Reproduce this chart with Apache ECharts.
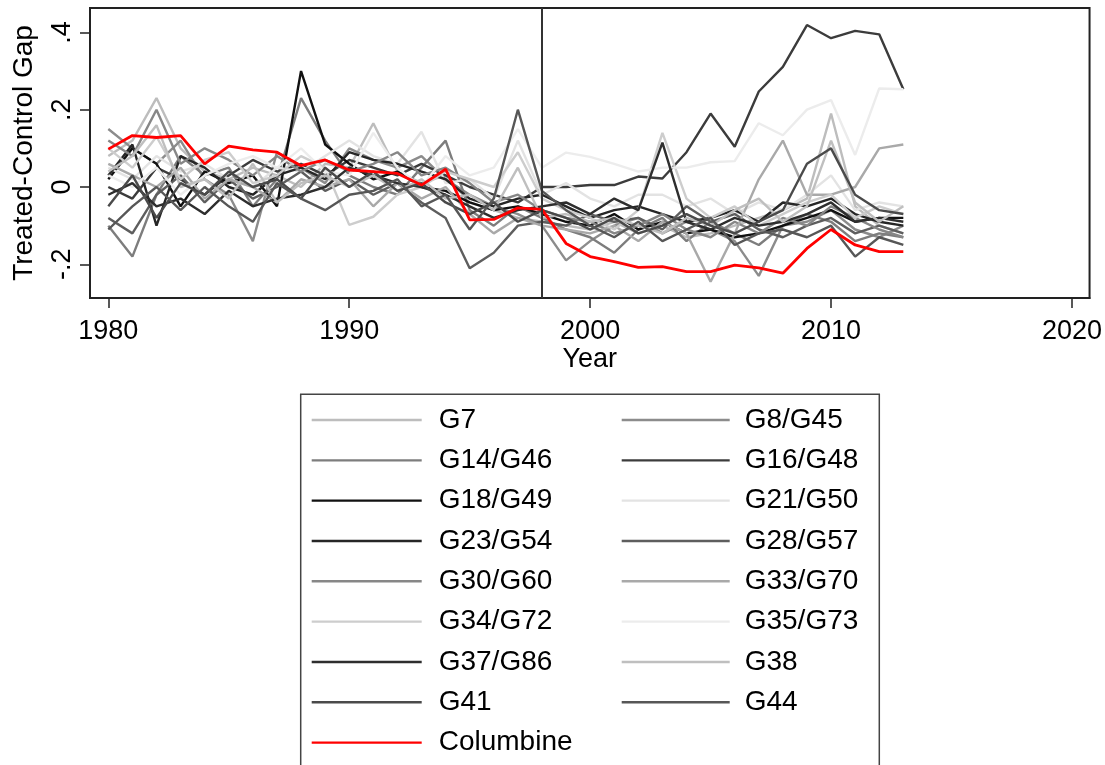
<!DOCTYPE html>
<html>
<head>
<meta charset="utf-8">
<title>Treated-Control Gap</title>
<script src="https://cdn.jsdelivr.net/npm/echarts@6.0.0/dist/echarts.min.js"></script>
<style>
  html, body { margin: 0; padding: 0; background: #fff; }
  #chart { width: 1105px; height: 765px; }
</style>
</head>
<body>
<div id="chart"></div>
<script>
var years = [1980, 1981, 1982, 1983, 1984, 1985, 1986, 1987, 1988, 1989,
  1990, 1991, 1992, 1993, 1994, 1995, 1996, 1997, 1998, 1999,
  2000, 2001, 2002, 2003, 2004, 2005, 2006, 2007, 2008, 2009,
  2010, 2011, 2012, 2013];

var xTicks = [1980, 1990, 2000, 2010, 2020];
var yTicks = [-0.2, 0, 0.2, 0.4];
var yTickLabels = ['-.2', '0', '.2', '.4'];
var treatYear = 1998;

// 各组的差值
var g7 = [0.08, 0.12, 0.23, 0.10, 0.04, 0.02, 0.05, 0.03, 0.00, 0.06,
  0.05, 0.165, 0.04, 0.01, 0.03, -0.04, -0.06, -0.08, -0.09, -0.10,
  -0.11, -0.09, -0.12, -0.10, -0.13, -0.12, -0.10, -0.08, -0.06, -0.03,
  0.19, -0.05, -0.10, -0.12];
var g8 = [0.15, 0.10, 0.06, 0.12, 0.02, -0.02, -0.14, 0.09, 0.05, 0.01,
  0.10, 0.07, 0.05, 0.08, 0.02, -0.02, -0.05, -0.07, -0.10, -0.19,
  -0.14, -0.10, -0.08, -0.12, -0.09, -0.11, -0.14, -0.23, -0.10, -0.09,
  -0.06, -0.11, -0.13, -0.10];
var g14 = [-0.10, -0.18, -0.02, 0.08, 0.03, 0.05, -0.05, 0.02, 0.23, 0.12,
  0.03, 0.00, -0.02, 0.05, 0.12, -0.06, -0.10, -0.05, -0.08, -0.11,
  -0.13, -0.17, -0.11, -0.08, -0.14, -0.09, -0.12, -0.15, -0.10, -0.07,
  -0.09, -0.14, -0.12, -0.13];
var g16 = [0.00, -0.03, 0.05, 0.02, -0.02, 0.03, 0.07, 0.04, 0.06, 0.03,
  0.07, 0.05, 0.03, 0.06, 0.03, 0.00, -0.02, -0.04, 0.00, 0.00,
  0.005, 0.005, 0.027, 0.022, 0.09, 0.19, 0.104, 0.247, 0.311, 0.419,
  0.385, 0.404, 0.395, 0.253];
var g18 = [0.02, 0.10, 0.06, -0.05, 0.04, 0.01, 0.03, -0.05, 0.30, 0.11,
  0.06, 0.02, 0.04, 0.00, -0.01, -0.04, -0.06, -0.05, -0.07, -0.09,
  -0.10, -0.07, -0.11, -0.09, -0.12, -0.11, -0.13, -0.12, -0.10, -0.08,
  -0.06, -0.09, -0.08, -0.08];
var g21 = [0.05, 0.02, 0.08, 0.04, 0.06, 0.02, 0.00, 0.05, 0.04, 0.08,
  0.12, 0.08, 0.06, 0.143, 0.01, 0.02, -0.03, 0.12, -0.02, 0.01,
  -0.03, -0.05, -0.02, -0.02, -0.05, -0.03, -0.07, -0.04, -0.06, -0.02,
  0.03, -0.06, -0.04, -0.05];
var g23 = [0.03, 0.11, -0.10, 0.08, 0.05, 0.00, -0.02, 0.03, 0.05, 0.02,
  0.09, 0.07, 0.06, 0.04, 0.02, -0.03, -0.05, -0.03, -0.02, -0.05,
  -0.08, -0.06, -0.05, -0.07, -0.09, -0.08, -0.06, -0.09, -0.04, -0.05,
  -0.03, -0.07, -0.09, -0.10];
var g28 = [-0.08, -0.12, -0.02, 0.03, -0.04, 0.02, -0.03, 0.00, 0.04, -0.01,
  0.02, -0.02, 0.01, -0.04, -0.08, -0.21, -0.17, -0.10, -0.09, -0.10,
  -0.07, -0.09, -0.08, -0.11, -0.05, -0.09, -0.07, -0.11, -0.13, -0.10,
  -0.08, -0.12, -0.10, -0.12];
var g30 = [0.12, 0.08, 0.20, 0.06, 0.10, 0.07, 0.03, 0.08, 0.04, 0.07,
  0.04, 0.06, 0.09, 0.03, 0.05, 0.01, -0.04, -0.02, -0.06, -0.08,
  -0.09, -0.12, -0.10, -0.07, -0.11, -0.13, -0.09, -0.12, -0.08, -0.10,
  -0.05, -0.08, -0.11, -0.13];
var g33 = [0.06, 0.03, 0.00, 0.05, -0.03, 0.02, 0.00, -0.04, 0.02, 0.00,
  0.02, -0.05, 0.01, -0.03, 0.00, -0.07, -0.12, -0.08, -0.10, -0.11,
  -0.12, -0.10, -0.14, -0.09, -0.12, -0.245, -0.12, 0.02, 0.12, -0.02,
  -0.02, 0.00, 0.10, 0.11];
var g34 = [0.10, 0.05, 0.13, 0.02, 0.07, 0.09, 0.01, 0.03, 0.08, 0.05,
  -0.098, -0.077, -0.02, 0.00, 0.04, 0.02, 0.00, 0.09, -0.03, -0.06,
  -0.08, -0.11, -0.06, 0.14, -0.03, -0.08, -0.05, -0.10, -0.07, -0.04,
  -0.02, -0.08, -0.05, -0.07];
var g35 = [0.03, 0.00, 0.05, -0.02, 0.03, 0.06, 0.08, 0.05, 0.10, 0.04,
  0.03, 0.14, 0.05, 0.00, 0.08, 0.03, 0.05, 0.15, 0.05, 0.089,
  0.078, 0.06, 0.04, 0.05, 0.05, 0.064, 0.067, 0.165, 0.134, 0.20,
  0.225, 0.083, 0.255, 0.253];
var g37 = [-0.02, 0.01, -0.05, -0.03, -0.07, -0.01, -0.05, -0.03, -0.02, 0.00,
  0.05, 0.03, 0.01, 0.00, -0.02, -0.05, -0.08, -0.06, -0.05, -0.04,
  -0.07, -0.03, -0.06, 0.115, -0.09, -0.11, -0.08, -0.10, -0.09, -0.07,
  -0.04, -0.09, -0.08, -0.09];
var g38 = [0.04, 0.08, 0.16, 0.00, 0.02, -0.03, 0.06, -0.04, 0.01, 0.03,
  0.00, 0.03, -0.01, 0.02, -0.03, -0.02, -0.06, 0.05, -0.08, -0.07,
  -0.09, -0.08, -0.10, -0.12, -0.08, -0.10, -0.06, -0.03, -0.09, -0.05,
  0.12, -0.04, -0.09, -0.05];
var g41 = [-0.05, 0.03, -0.08, 0.01, -0.02, 0.04, 0.00, 0.02, -0.03, 0.05,
  0.00, 0.04, -0.01, 0.01, -0.04, -0.07, -0.04, -0.09, -0.06, -0.08,
  -0.11, -0.08, -0.12, -0.10, -0.07, -0.10, -0.12, -0.09, -0.06, 0.06,
  0.10, -0.02, -0.06, -0.07];
var g44 = [-0.11, -0.05, 0.00, -0.06, 0.00, -0.05, -0.09, 0.01, -0.03, -0.06,
  -0.02, -0.01, 0.02, -0.05, -0.02, -0.11, -0.03, 0.20, -0.01, -0.06,
  -0.10, -0.13, -0.09, -0.14, -0.11, -0.08, -0.15, -0.12, -0.11, -0.13,
  -0.10, -0.18, -0.13, -0.15];
var columbine = [0.098, 0.133, 0.128, 0.133, 0.060, 0.106, 0.096, 0.090, 0.055, 0.070,
  0.044, 0.040, 0.035, 0.005, 0.046, -0.085, -0.084, -0.054, -0.058, -0.146,
  -0.180, -0.193, -0.208, -0.206, -0.219, -0.219, -0.202, -0.209, -0.223, -0.159,
  -0.110, -0.150, -0.167, -0.167];

var groups = [
  {name: 'G7', values: g7, color: '#bdbdbd'},
  {name: 'G8/G45', values: g8, color: '#8c8c8c'},
  {name: 'G14/G46', values: g14, color: '#7d7d7d'},
  {name: 'G16/G48', values: g16, color: '#3c3c3c'},
  {name: 'G18/G49', values: g18, color: '#111111'},
  {name: 'G21/G50', values: g21, color: '#e3e3e3'},
  {name: 'G23/G54', values: g23, color: '#262626'},
  {name: 'G28/G57', values: g28, color: '#5e5e5e'},
  {name: 'G30/G60', values: g30, color: '#878787'},
  {name: 'G33/G70', values: g33, color: '#a9a9a9'},
  {name: 'G34/G72', values: g34, color: '#cdcdcd'},
  {name: 'G35/G73', values: g35, color: '#ececec'},
  {name: 'G37/G86', values: g37, color: '#2e2e2e'},
  {name: 'G38', values: g38, color: '#bfbfbf'},
  {name: 'G41', values: g41, color: '#4a4a4a'},
  {name: 'G44', values: g44, color: '#575757'},
  {name: 'Columbine', values: columbine, color: '#ff0000'}
];

var FONT = '"Liberation Sans", Arial, Helvetica, sans-serif';

function pairs(vals) {
  var out = [];
  for (var i = 0; i < years.length; i++) {
    out.push([years[i], vals[i]]);
  }
  return out;
}

var series = [];
for (var i = 0; i < groups.length; i++) {
  var s = {
    name: groups[i].name,
    type: 'line',
    data: pairs(groups[i].values),
    symbol: 'none',
    showSymbol: false,
    color: groups[i].color,
    lineStyle: {color: groups[i].color, width: 2.4},
    emphasis: {disabled: true},
    z: 2
  };
  if (groups[i].name === 'Columbine') {
    s.lineStyle.width = 2.8;
    s.z = 3;
    // 处理年份竖线
    s.markLine = {
      silent: true,
      symbol: ['none', 'none'],
      label: {show: false},
      lineStyle: {color: '#333', width: 2, type: 'solid'},
      data: [{xAxis: treatYear}]
    };
  }
  series.push(s);
}

// 图例分两列
var leftCol = [], rightCol = [];
for (var j = 0; j < groups.length; j++) {
  if (j === groups.length - 1 || j % 2 === 0) {
    leftCol.push(groups[j].name);
  } else {
    rightCol.push(groups[j].name);
  }
}

function legendOf(names, left, iconW, textPad) {
  return {
    data: names,
    orient: 'vertical',
    left: left,
    top: 405,
    padding: 0,
    icon: 'rect',
    itemWidth: iconW,
    itemHeight: 2.4,
    itemGap: 10.33,
    selectedMode: false,
    textStyle: {
      fontFamily: FONT,
      fontSize: 28,
      color: '#000',
      lineHeight: 30,
      padding: [0, 0, 0, textPad]
    }
  };
}

var chart = echarts.init(document.getElementById('chart'), null, {renderer: 'canvas'});

var option = {
  animation: false,
  backgroundColor: '#fff',
  grid: {
    left: 90,
    top: 8,
    width: 1000,
    height: 290,
    show: true,
    borderColor: '#222',
    borderWidth: 2,
    containLabel: false
  },
  xAxis: {
    type: 'value',
    min: 1979.24,
    max: 2020.73,
    name: 'Year',
    nameLocation: 'middle',
    nameGap: 48,
    nameTextStyle: {fontFamily: FONT, fontSize: 27, color: '#000'},
    axisLine: {show: true, onZero: false, lineStyle: {color: '#222', width: 2}},
    splitLine: {show: false},
    axisTick: {show: true, length: 10, customValues: xTicks, lineStyle: {color: '#222', width: 1.5}},
    axisLabel: {
      customValues: xTicks,
      margin: 20,
      fontFamily: FONT,
      fontSize: 27,
      color: '#000',
      formatter: function (v) { return String(v); }
    }
  },
  yAxis: {
    type: 'value',
    min: -0.2872,
    max: 0.4631,
    name: 'Treated-Control Gap',
    nameLocation: 'middle',
    nameGap: 52,
    nameTextStyle: {fontFamily: FONT, fontSize: 28, color: '#000'},
    axisLine: {show: true, onZero: false, lineStyle: {color: '#222', width: 2}},
    splitLine: {show: false},
    axisTick: {show: true, length: 10, customValues: yTicks, lineStyle: {color: '#222', width: 1.5}},
    axisLabel: {
      customValues: yTicks,
      rotate: 90,
      margin: 14,
      fontFamily: FONT,
      fontSize: 27,
      color: '#000',
      formatter: function (v) {
        for (var k = 0; k < yTicks.length; k++) {
          if (Math.abs(yTicks[k] - v) < 1e-9) return yTickLabels[k];
        }
        return '';
      }
    }
  },
  legend: [
    legendOf(leftCol, 311.7, 110, 12),
    legendOf(rightCol, 621.7, 108, 10)
  ],
  graphic: [{
    type: 'rect',
    silent: true,
    shape: {x: 300.7, y: 394.3, width: 578.6, height: 420},
    style: {fill: 'none', stroke: '#444', lineWidth: 1.5}
  }],
  series: series
};

chart.setOption(option);
</script>
</body>
</html>
